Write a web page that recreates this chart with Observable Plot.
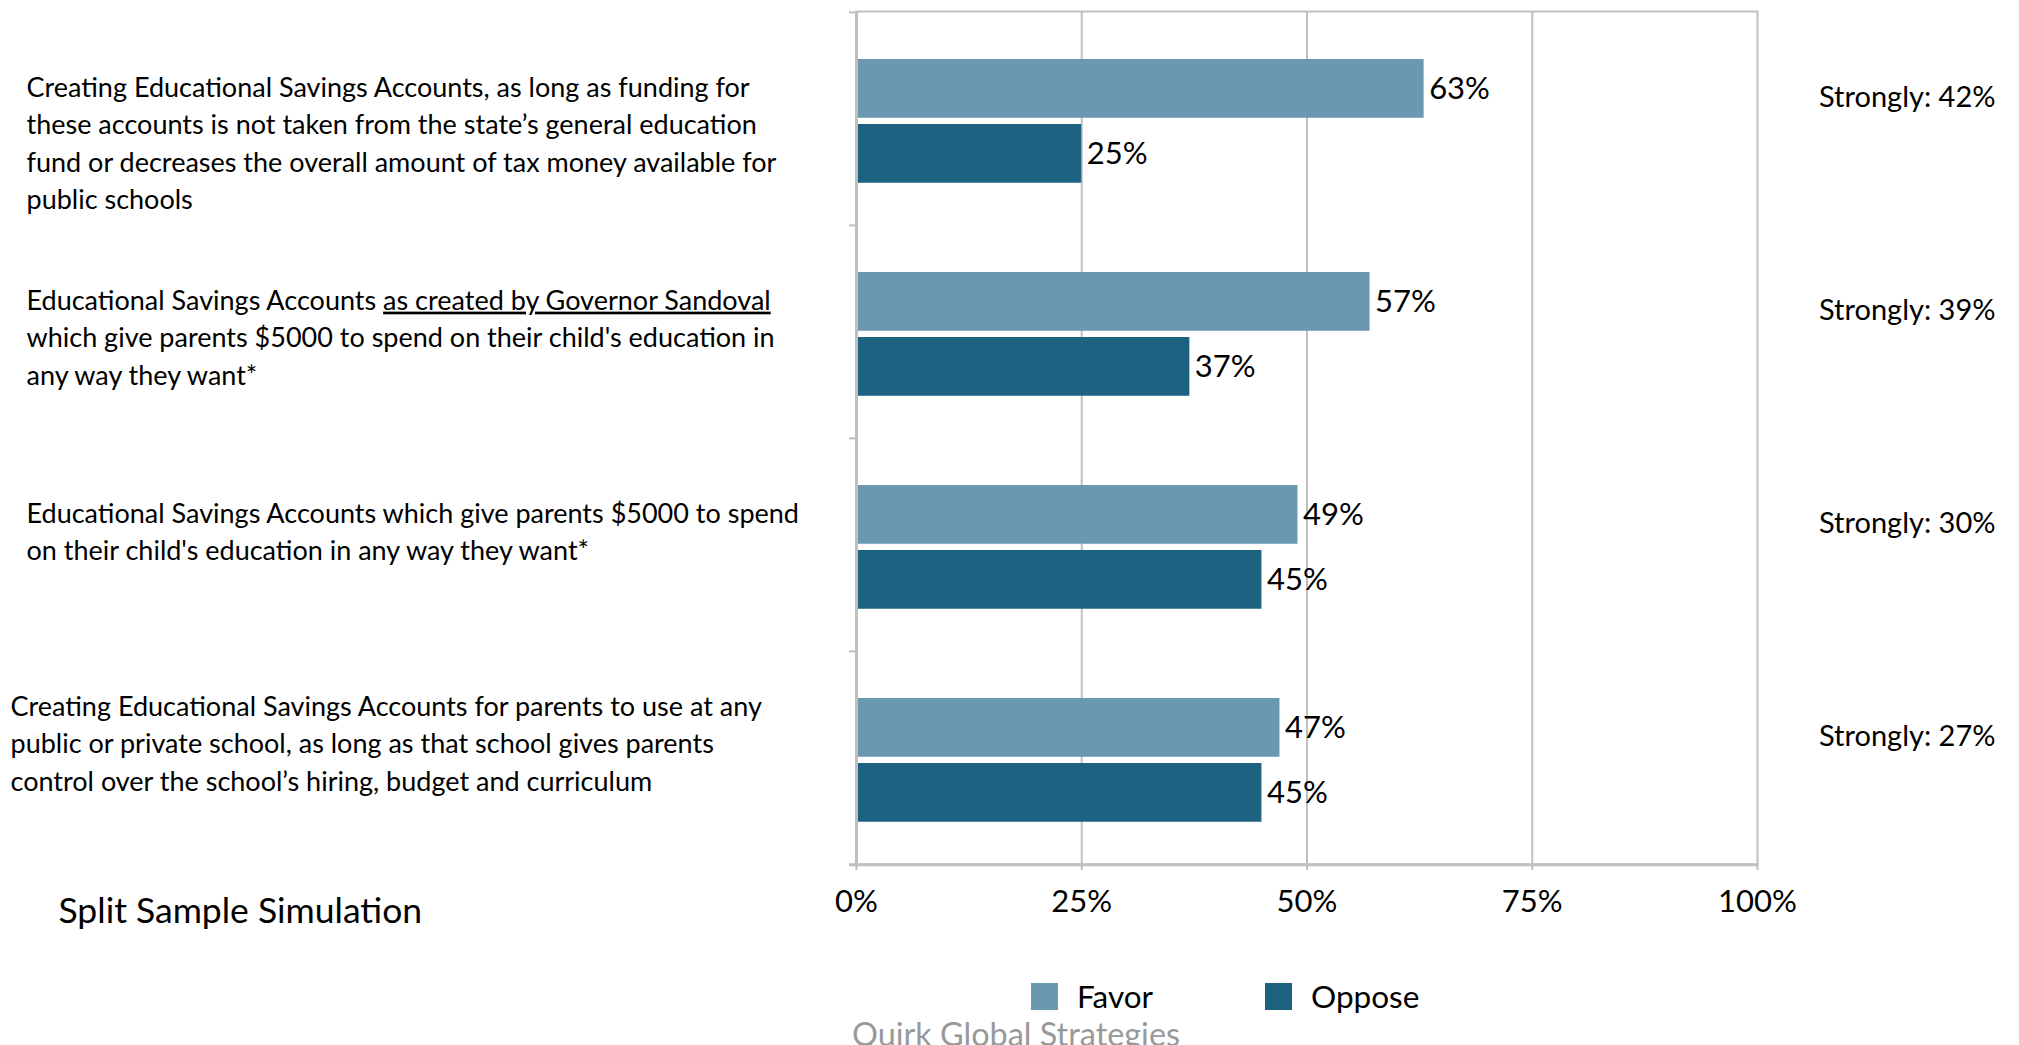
<!DOCTYPE html>
<html>
<head>
<meta charset="utf-8">
<script src="https://cdn.jsdelivr.net/npm/d3@7"></script>
<script src="https://cdn.jsdelivr.net/npm/@observablehq/plot@0.6"></script>
<style>
  html, body { margin: 0; padding: 0; background: #fff; }
  body { width: 2019px; height: 1045px; position: relative; overflow: hidden; font-family: Lato, sans-serif; }
  #chart { position: absolute; left: 0; top: 0; }
  #legend { position: absolute; left: 1031px; top: 977px; }
  #legend .lg-swatch { margin-right: 112px !important; font-size: 31.5px; color: #000; }
  #legend .lg-swatch > svg { margin-right: 19px !important; }
  #legend .lg-swatches { font-family: Lato, sans-serif; font-size: 31.5px; }
  #source { position: absolute; left: 852px; top: 1014px; font-size: 32.4px; color: #999; white-space: nowrap; font-family: Lato, sans-serif; }
</style>
</head>
<body>
<div id="chart"></div>
<div id="legend"></div>
<div id="source">Quirk Global Strategies</div>
<script>
// ---- data ----
const questions = [
  "Creating Educational Savings Accounts, as long as funding for\nthese accounts is not taken from the state’s general education\nfund or decreases the overall amount of tax money available for\npublic schools",
  "Educational Savings Accounts as created by Governor Sandoval\nwhich give parents $5000 to spend on their child's education in\nany way they want*",
  "Educational Savings Accounts which give parents $5000 to spend\non their child's education in any way they want*",
  "Creating Educational Savings Accounts for parents to use at any\npublic or private school, as long as that school gives parents\ncontrol over the school’s hiring, budget and curriculum"
];
const underlined = "as created by Governor Sandoval";
const series = ["Favor", "Oppose"];
const favor = [63, 57, 49, 47];
const oppose = [25, 37, 45, 45];
const strongly = [42, 39, 30, 27];
const xTicks = [0, 25, 50, 75, 100];
const seriesColors = ["#6b98b1", "#1d6281"];
const caption = "Split Sample Simulation";

// ---- layout ----
const W = 2019, H = 945, ML = 856, MR = 262, MT = 11, MB = 81;
const band = (H - MT - MB) / questions.length;
const plotW = W - ML - MR;
const grey = "#bfbfbf";
const qFont = 27;

const rows = questions.flatMap((q, i) => [
  {question: q, series: series[0], value: favor[i]},
  {question: q, series: series[1], value: oppose[i]}
]);
const isFavor = d => d.series === series[0];
const isOppose = d => d.series === series[1];

const chart = Plot.plot({
  width: W, height: H,
  marginLeft: ML, marginRight: MR, marginTop: MT, marginBottom: MB,
  style: {fontFamily: "Lato, sans-serif", color: "#000", background: "#fff", overflow: "visible"},
  x: {domain: [0, 100]},
  y: {domain: questions, padding: 0, axis: null},
  color: {domain: series, range: seriesColors},
  marks: [
    Plot.ruleX([25, 50, 75], {stroke: grey, strokeWidth: 2}),
    Plot.frame({stroke: grey, strokeWidth: 2}),
    Plot.barX(rows, {filter: isFavor, y: "question", x: "value", fill: "series", insetTop: 47, insetBottom: band - 106}),
    Plot.barX(rows, {filter: isOppose, y: "question", x: "value", fill: "series", insetTop: 112, insetBottom: band - 171}),
    Plot.ruleX([0], {stroke: grey, strokeWidth: 3}),
    Plot.ruleY(questions, {y: d => d, dy: -band / 2, insetLeft: -7, insetRight: plotW, stroke: grey, strokeWidth: 2}),
    Plot.ruleY(questions.slice(-1), {y: d => d, dy: band / 2, insetLeft: -7, stroke: grey, strokeWidth: 3}),
    Plot.axisX({ticks: xTicks, tickFormat: d => d + "%", tickSize: 6, tickPadding: 19, stroke: grey, strokeWidth: 2, fill: "#000", fontSize: 31, label: null}),
    Plot.text(rows, {filter: isFavor, y: "question", x: "value", text: d => d.value + "%", dx: 5, dy: -30, textAnchor: "start", fontSize: 31, fill: "#000"}),
    Plot.text(rows, {filter: isOppose, y: "question", x: "value", text: d => d.value + "%", dx: 5, dy: 35, textAnchor: "start", fontSize: 31, fill: "#000"}),
    Plot.text(questions, {y: d => d, text: (d, i) => `Strongly: ${strongly[i]}%`, frameAnchor: "right", dx: 238, dy: -21, textAnchor: "end", fontSize: 29, fill: "#000"}),
    Plot.text(questions, {filter: (d, i) => i < 3, y: d => d, text: d => d, frameAnchor: "left", dx: 26 - ML, dy: -49, textAnchor: "start", lineAnchor: "top", fontSize: qFont, lineHeight: 37.5 / qFont, fill: "#000"}),
    Plot.text(questions, {filter: (d, i) => i === 3, y: d => d, text: d => d, frameAnchor: "left", dx: 10 - ML, dy: -69, textAnchor: "start", lineAnchor: "top", fontSize: qFont, lineHeight: 37.5 / qFont, fill: "#000"}),
    Plot.text([caption], {text: d => d, frameAnchor: "bottom-left", dx: 58 - ML, dy: 58, textAnchor: "start", fontSize: 35.5, fill: "#000"})
  ]
});
document.getElementById("chart").appendChild(chart);

// underline part of the second label
chart.querySelectorAll("tspan").forEach(t => {
  const s = t.textContent;
  const k = s.indexOf(underlined);
  if (k >= 0 && t.children.length === 0) {
    t.textContent = s.slice(0, k);
    const u = document.createElementNS("http://www.w3.org/2000/svg", "tspan");
    u.textContent = underlined;
    u.setAttribute("style", "text-decoration: underline");
    t.appendChild(u);
    const rest = s.slice(k + underlined.length);
    if (rest) t.appendChild(document.createTextNode(rest));
  }
});

const legend = chart.legend("color", {className: "lg", swatchSize: 27, swatchWidth: 27, swatchHeight: 27});
document.getElementById("legend").appendChild(legend);
</script>
</body>
</html>
